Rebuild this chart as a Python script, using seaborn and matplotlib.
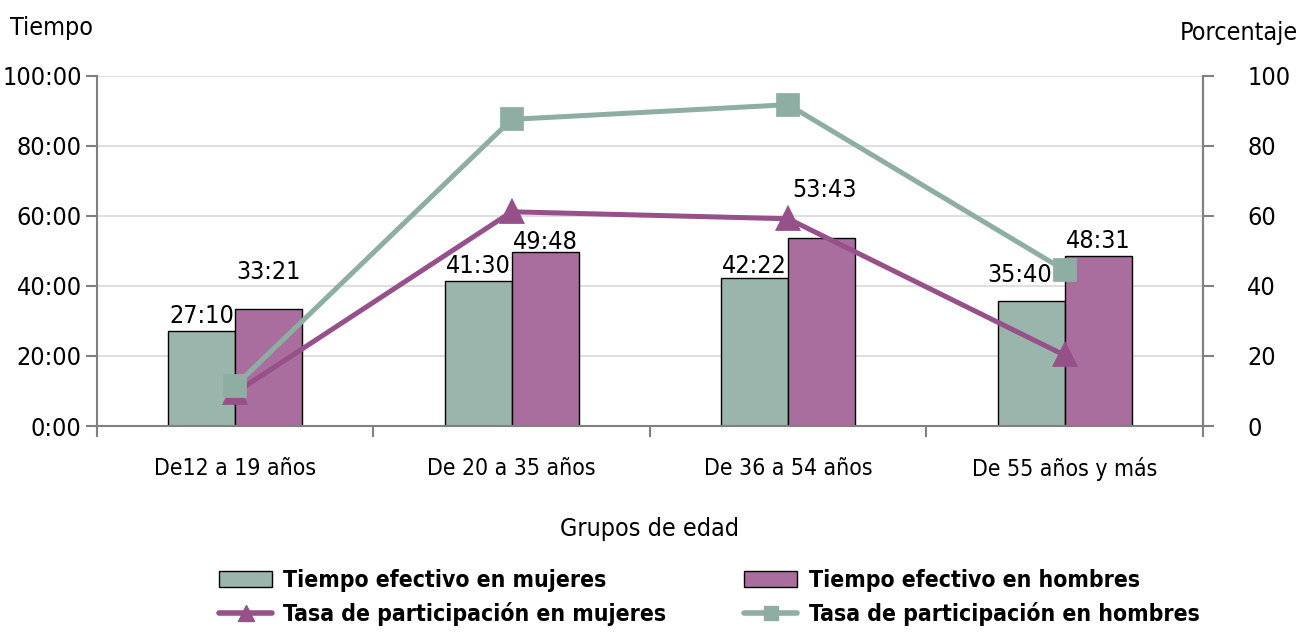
import pandas as pd
import matplotlib.pyplot as plt
import matplotlib.patches as mpatches
import matplotlib.lines as mlines
import seaborn as sns

sns.set_theme(style="white")
plt.rcParams['font.family'] = ['DejaVu Sans']
plt.rcParams['font.stretch'] = 'condensed'
for clave in ['text.color', 'axes.labelcolor', 'xtick.color', 'ytick.color']:
    plt.rcParams[clave] = 'black'

grupos = ['De12 a 19 años', 'De 20 a 35 años', 'De 36 a 54 años', 'De 55 años y más']
tiempo_mujeres = ['27:10', '41:30', '42:22', '35:40']
tiempo_hombres = ['33:21', '49:48', '53:43', '48:31']
tasa_mujeres = [9.5, 61.2, 59.2, 20.2]
tasa_hombres = [11.5, 87.6, 91.8, 44.5]

VERDE_BARRA = '#9AB5AC'
MORADO_BARRA = '#A96E9D'
MORADO_LINEA = '#96508A'
VERDE_LINEA = '#8FAEA3'


def a_horas(t):
    h, m = t.split(':')
    return int(h) + int(m) / 60


def formato_hm(v, pos=None):
    h = int(round(v))
    return f'{h}:00'


df_barras = pd.DataFrame({
    'grupo': grupos * 2,
    'serie': ['Tiempo efectivo en mujeres'] * 4 + ['Tiempo efectivo en hombres'] * 4,
    'horas': [a_horas(t) for t in tiempo_mujeres + tiempo_hombres],
    'etiqueta': tiempo_mujeres + tiempo_hombres,
})
df_lineas = pd.DataFrame({
    'grupo': grupos * 2,
    'serie': ['Tasa de participación en mujeres'] * 4 + ['Tasa de participación en hombres'] * 4,
    'tasa': tasa_mujeres + tasa_hombres,
})

fig = plt.figure(figsize=(13.07, 6.33), dpi=100)
ax = fig.add_axes([0.0742, 0.327, 0.8462, 0.553])

sns.barplot(data=df_barras, x='grupo', y='horas', hue='serie', order=grupos,
            palette=[VERDE_BARRA, MORADO_BARRA], saturation=1, width=0.485, gap=0,
            edgecolor='black', linewidth=1, legend=False, ax=ax)

# etiquetas de valor encima de cada barra (desplazamiento en puntos)
desplaz_y = [[2, 2, 0, 10], [18, -2, 26, 2]]
desplaz_x = [[0, 0, 0, -8], [0, 0, 2, 0]]
for i, cont in enumerate(ax.containers):
    etiquetas = df_barras['etiqueta'].iloc[i * 4:(i + 1) * 4].tolist()
    for j, barra in enumerate(cont):
        ax.annotate(etiquetas[j], (barra.get_x() + barra.get_width() / 2, barra.get_height()),
                    xytext=(desplaz_x[i][j], desplaz_y[i][j]), textcoords='offset points',
                    ha='center', va='bottom', fontsize=18, color='black')

ax.set_ylim(0, 100)
ax.set_xlim(-0.5, 3.5)
ax.set_yticks(range(0, 101, 20))
ax.yaxis.set_major_formatter(plt.FuncFormatter(formato_hm))
ax.grid(axis='y', color='#d9d9d9', linewidth=1.2)
ax.set_axisbelow(True)
ax.set_xlabel('Grupos de edad', fontsize=18, labelpad=26)
ax.set_ylabel('')
ax.tick_params(axis='y', left=True, length=8, width=1.5, color='#808080', labelsize=18, pad=3)
ax.tick_params(axis='x', bottom=False, labelsize=16.5, pad=16)
ax.set_xticks(range(4))
ax.set_xticklabels(grupos)
ax.set_xticks([-0.5, 0.5, 1.5, 2.5, 3.5], minor=True)
ax.tick_params(axis='x', which='minor', bottom=True, length=8, width=1.5, color='#808080')
ax.spines['top'].set_visible(False)
for lado in ['left', 'right', 'bottom']:
    ax.spines[lado].set_color('#808080')
    ax.spines[lado].set_linewidth(1.5)

ax2 = ax.twinx()
sns.pointplot(data=df_lineas, x='grupo', y='tasa', hue='serie', order=grupos,
              palette=[MORADO_LINEA, VERDE_LINEA], markers=['^', 's'],
              linestyles=['-', '-'], markersize=15, linewidth=3.6,
              legend=False, ax=ax2)
ax2.set_ylim(0, 100)
ax2.set_xlim(-0.5, 3.5)
ax2.set_yticks(range(0, 101, 20))
ax2.set_ylabel('')
ax2.tick_params(axis='y', right=True, length=8, width=1.5, color='#808080', labelsize=18, pad=24)
for lado in ['top', 'left', 'bottom']:
    ax2.spines[lado].set_visible(False)
ax2.spines['right'].set_color('#808080')
ax2.spines['right'].set_linewidth(1.5)

fig.text(0.008, 0.955, 'Tiempo', fontsize=18, ha='left', va='center')
fig.text(0.993, 0.948, 'Porcentaje', fontsize=18, ha='right', va='center')

manejadores = [
    mpatches.Patch(facecolor=VERDE_BARRA, edgecolor='black', label='Tiempo efectivo en mujeres'),
    mlines.Line2D([], [], color=MORADO_LINEA, marker='^', markersize=11, linewidth=4,
                  label='Tasa de participación en mujeres'),
    mpatches.Patch(facecolor=MORADO_BARRA, edgecolor='black', label='Tiempo efectivo en hombres'),
    mlines.Line2D([], [], color=VERDE_LINEA, marker='s', markersize=10, linewidth=4,
                  label='Tasa de participación en hombres'),
]
fig.legend(handles=manejadores, loc='lower left', bbox_to_anchor=(0.152, -0.022), ncol=2,
           frameon=False, prop={'size': 16.5, 'weight': 'bold', 'stretch': 'condensed'},
           handlelength=2.3, handletextpad=0.5, columnspacing=3.4, labelspacing=0.45)

fig.savefig('out.png', dpi=100)
